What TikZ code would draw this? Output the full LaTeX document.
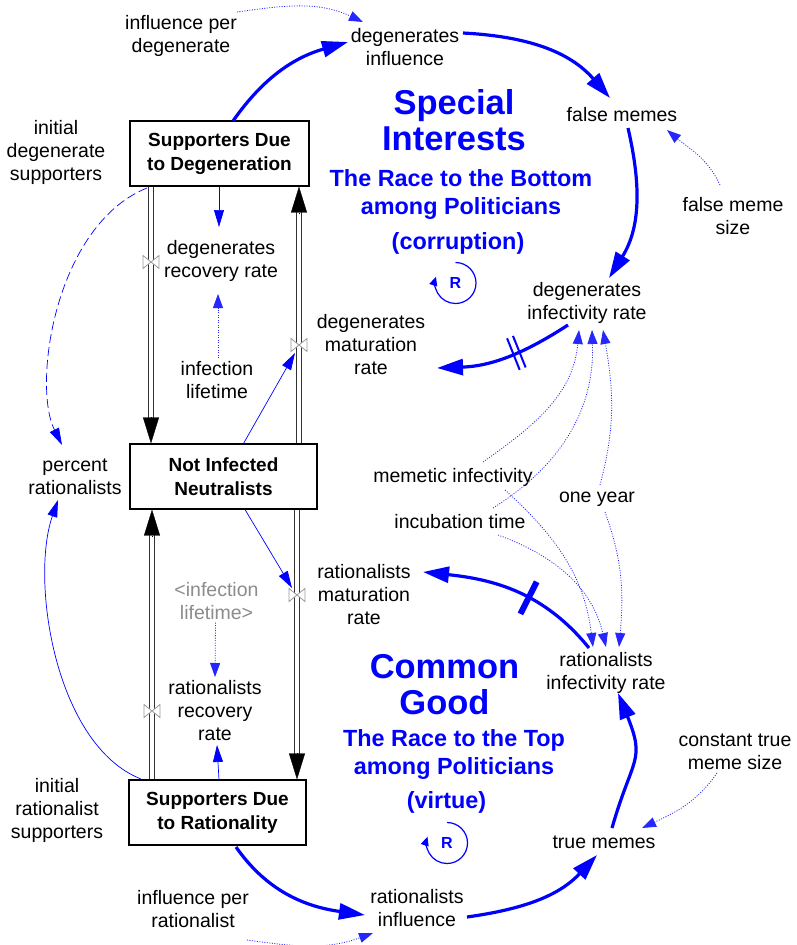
\documentclass[tikz,border=0pt]{standalone}
\usepackage{fontspec}
\setmainfont{Liberation Sans}
\usetikzlibrary{arrows.meta,decorations.markings}

\newcommand\lblfont{\fontsize{19.5}{23}\selectfont}
\newcommand\stockfont{\bfseries\fontsize{19}{24}\selectfont}
\newcommand\loopname{\bfseries\fontsize{34.5}{36}\selectfont}
\newcommand\loopsub{\bfseries\fontsize{23.4}{28}\selectfont}
\newcommand\loopmark{\bfseries\fontsize{16}{18}\selectfont}

\tikzset{
  lbl/.style={font=\lblfont, align=center, inner sep=0pt, text=black},
  ghost/.style={lbl, text=black!45},
  stock/.style={draw=black, line width=1.2pt, fill=white, font=\stockfont,
    align=center, minimum height=65pt, inner sep=0pt},
  looptitle/.style={font=\loopname, text=blue, align=center, inner sep=0pt},
  loopsubtitle/.style={font=\loopsub, text=blue, align=center, inner sep=0pt},
  rlabel/.style={font=\loopmark, text=blue, inner sep=0pt},
  rloop/.style={draw=blue, line width=1.2pt, -{Triangle[length=9pt,width=8pt]}},
  thicklink/.style={draw=blue, line width=3.2pt, -{Triangle[length=26pt,width=16pt]}},
  thinlink/.style={draw=blue, line width=0.7pt, -{Triangle[length=17pt,width=10pt]}},
  infolink/.style={draw=blue!85, line width=0.8pt, dash pattern=on 1pt off 1.5pt,
    -{Triangle[length=14pt,width=10pt]}},
  dashlink/.style={thinlink, dash pattern=on 9pt off 4pt},
  pipe/.style={draw=black!80, double=white, double distance=4.4pt, line width=1.2pt},
  flowtip/.style={draw=black, line width=0.3pt, -{Triangle[length=26pt,width=16pt]}},
  flowvalve/.pic={\draw[draw=black!40, fill=white, line width=0.8pt]
    (-8,-6.5) -- (8,6.5) -- (8,-6.5) -- (-8,6.5) -- cycle;},
  delaytwo/.style={postaction={decorate, decoration={markings, mark=at position #1 with
    {\draw[-, solid, blue, line width=2pt] (-3.2pt,-17pt) -- (-3.2pt,17pt) (3.2pt,-17pt) -- (3.2pt,17pt);}}}},
  delayone/.style={postaction={decorate, decoration={markings, mark=at position #1 with
    {\draw[-, solid, blue, line width=6pt] (0pt,-18pt) -- (0pt,18pt);}}}},
}

\begin{document}
\begin{tikzpicture}[x=1pt,y=-1pt]
\useasboundingbox (0,0) rectangle (796,945);
\fill[white] (0,0) rectangle (796,945);

% ---- labels and loop titles ----
\node[lbl] (ipd) at (181,36) {influence per\\degenerate};
\node[lbl] (dinf) at (405,47) {degenerates\\influence};
\node[lbl] (fm) at (622,115) {false memes};
\node[lbl] (fms) at (733,216) {false meme\\size};
\node[looptitle] (si) at (454,120) {Special\\Interests};
\node[loopsubtitle] (rb) at (461,194) {The Race to the Bottom\\among Politicians};
\node[loopsubtitle] (cor) at (458,243) {(corruption)};
\node[rlabel] (r1) at (455.5,283) {R};
\node[lbl] (ids) at (56,152) {initial\\degenerate\\supporters};
\node[lbl] (drr) at (221,261) {degenerates\\recovery rate};
\node[lbl] (dir) at (587,303) {degenerates\\infectivity rate};
\node[lbl] (dmr) at (371,345) {degenerates\\maturation\\rate};
\node[lbl] (il) at (217,380) {infection\\lifetime};
\node[lbl] (pr) at (75,477) {percent\\rationalists};
\node[lbl] (mi) at (453,477) {memetic infectivity};
\node[lbl] (oy) at (597,499) {one year};
\node[lbl] (it) at (460,522) {incubation time};
\node[lbl] (rmr) at (364,595) {rationalists\\maturation\\rate};
\node[ghost] (il2) at (216.5,601.5) {<infection\\lifetime>};
\node[looptitle] (cg) at (444.5,685) {Common\\Good};
\node[lbl] (rir) at (606,673) {rationalists\\infectivity rate};
\node[lbl] (rrr) at (215,711) {rationalists\\recovery\\rate};
\node[loopsubtitle] (rt) at (454,754) {The Race to the Top\\among Politicians};
\node[loopsubtitle] (vir) at (446.5,802) {(virtue)};
\node[rlabel] (r2) at (447,843) {R};
\node[lbl] (cts) at (735,752) {constant true\\meme size};
\node[lbl] (tm) at (604,842) {true memes};
\node[lbl] (irs) at (57,810) {initial\\rationalist\\supporters};
\node[lbl] (ipr) at (193,909) {influence per\\rationalist};
\node[lbl] (rinf) at (417,908) {rationalists\\influence};

% ---- stocks ----
\node[stock, minimum width=179pt] (sdd) at (219.5,153.5) {Supporters Due\\to Degeneration};
\node[stock, minimum width=187pt] (nin) at (223.5,476.5) {Not Infected\\Neutralists};
\node[stock, minimum width=177pt] (sdr) at (217.5,812.5) {Supporters Due\\to Rationality};

% ---- flows (pipes with valves) ----
\coordinate (v1) at (151,262);
\coordinate (v2) at (299,345);
\coordinate (v3) at (297,595);
\coordinate (v4) at (152,711);
\coordinate (p1e) at (v1 |- nin.north);
\coordinate (p2e) at (v2 |- sdd.south);
\coordinate (p3e) at (v3 |- sdr.north);
\coordinate (p4e) at (v4 |- nin.south);
\draw[pipe, shorten <=0.6pt] (v1 |- sdd.south) -- ([yshift=22pt]p1e);
\draw[flowtip] ([yshift=26pt]p1e) -- (p1e);
\draw[pipe, shorten <=0.6pt] (v2 |- nin.north) -- ([yshift=-22pt]p2e);
\draw[flowtip] ([yshift=-26pt]p2e) -- (p2e);
\draw[pipe, shorten <=0.6pt] (v3 |- nin.south) -- ([yshift=22pt]p3e);
\draw[flowtip] ([yshift=26pt]p3e) -- (p3e);
\draw[pipe, shorten <=0.6pt] (v4 |- sdr.north) -- ([yshift=-22pt]p4e);
\draw[flowtip] ([yshift=-26pt]p4e) -- (p4e);
\pic at (v1) {flowvalve};
\pic at (v2) {flowvalve};
\pic at (v3) {flowvalve};
\pic at (v4) {flowvalve};

% ---- reinforcing loop markers ----
\draw[rloop] (r1.center) ++(90:20.5pt) arc[start angle=90, end angle=-198, radius=20.5pt];
\draw[rloop] (r2.center) ++(90:20.5pt) arc[start angle=90, end angle=-198, radius=20.5pt];

% ---- main causal links ----
\draw[thicklink] ([shift={(13.5,-32.5)}]sdd.center) to[out=55,in=196] ([shift={(-57,-5)}]dinf.center);
\draw[thicklink] ([shift={(58,-14)}]dinf.center) to[out=-3,in=131] ([shift={(-12,-17)}]fm.center);
\draw[thicklink] ([shift={(6,13)}]fm.center) to[out=-77,in=58] ([shift={(22,-25)}]dir.center);
\draw[thicklink, delaytwo=0.42] ([shift={(-19,22)}]dir.center) to[out=213,in=2] ([shift={(66,23)}]dmr.center);
\draw[thicklink, delayone=0.42] ([shift={(-17,-25)}]rir.center) to[out=129,in=-6] ([shift={(59,-23)}]rmr.center);
\draw[thicklink] ([shift={(18.5,34.5)}]sdr.center) to[out=-55,in=172] ([shift={(-52,7)}]rinf.center);
\draw[thicklink] ([shift={(50,9)}]rinf.center) to[out=8,in=227] ([shift={(-7,13)}]tm.center);
\draw[thicklink] ([shift={(8,-14)}]tm.center) to[out=74,in=-68,looseness=1.4] ([shift={(12,20)}]rir.center);

% ---- thin links from stocks ----
\draw[thinlink] ([shift={(-0.5,33.5)}]sdd.center) -- ([shift={(-2,-34)}]drr.center);
\draw[thinlink] ([shift={(20,-33)}]nin.center) -- ([shift={(-4,8)}]v2);
\draw[thinlink] ([shift={(21.5,33)}]nin.center) -- ([shift={(-5,-7)}]v3);
\draw[thinlink] ([shift={(1.5,-32.5)}]sdr.center) -- ([shift={(2,34)}]rrr.center);
\draw[dashlink] ([shift={(-72.5,34.5)}]sdd.center) .. controls (55,225) and (32,385) .. ([shift={(-13,-32)}]pr.center);
\draw[thinlink] ([shift={(-76.5,-33.5)}]sdr.center) .. controls (55,745) and (30,580) .. ([shift={(-17,23)}]pr.center);

% ---- information links from constants ----
\draw[infolink] ([shift={(56,-24)}]ipd.center) to[out=8,in=155] ([shift={(-42,-25)}]dinf.center);
\draw[infolink] ([shift={(1,-22)}]il.center) -- ([shift={(-3,33)}]drr.center);
\draw[infolink] ([shift={(-1,21)}]il2.center) -- ([shift={(0,-34)}]rrr.center);
\draw[infolink] ([shift={(-13,-31)}]fms.center) to[out=115,in=-40] ([shift={(45,15)}]fm.center);
\draw[infolink] ([shift={(-18,21)}]cts.center) to[out=-125,in=25] ([shift={(38,-14)}]tm.center);
\draw[infolink] ([shift={(54,31)}]ipr.center) to[out=-8,in=200] ([shift={(-44,25)}]rinf.center);
\draw[infolink] ([shift={(30,-15)}]mi.center) to[out=35,in=-95] ([shift={(-8,27)}]dir.center);
\draw[infolink] ([shift={(33,-14)}]it.center) to[out=32,in=-88] ([shift={(5,27)}]dir.center);
\draw[infolink] ([shift={(3,-14)}]oy.center) to[out=75,in=-80] ([shift={(16,27)}]dir.center);
\draw[infolink] ([shift={(52,13)}]mi.center) to[out=-42,in=97] ([shift={(-13,-26)}]rir.center);
\draw[infolink] ([shift={(38,13)}]it.center) to[out=-20,in=103] ([shift={(0,-26)}]rir.center);
\draw[infolink] ([shift={(8,13)}]oy.center) to[out=-70,in=85] ([shift={(13,-26)}]rir.center);
\end{tikzpicture}
\end{document}
